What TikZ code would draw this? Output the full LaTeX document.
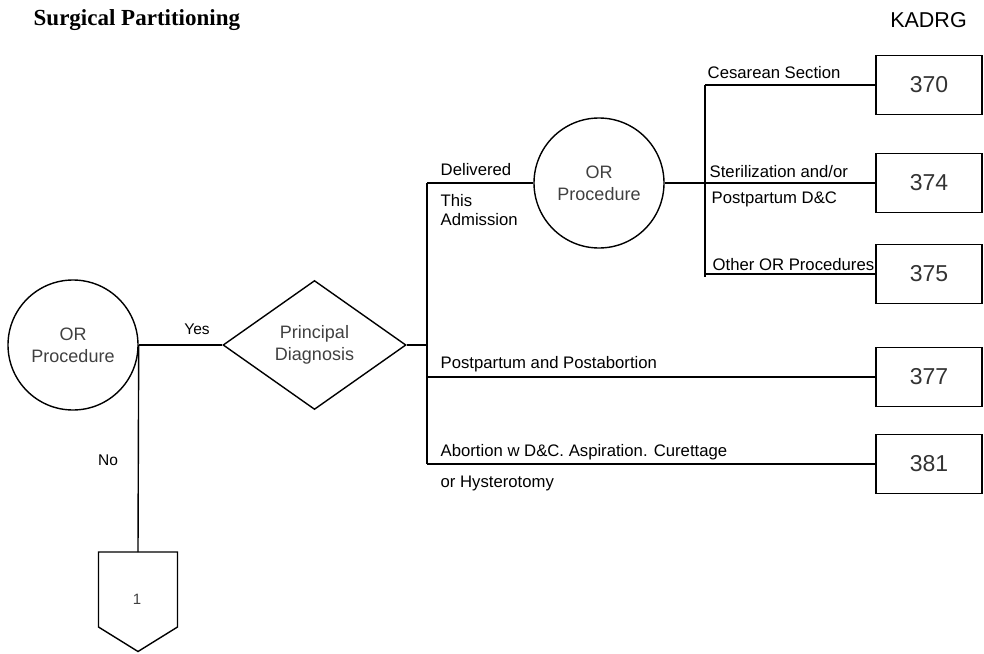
\documentclass[tikz,border=0pt]{standalone}
\usepackage{fontspec}
\setmainfont{Liberation Sans}
\newfontfamily\titlefont{Liberation Serif}
\usetikzlibrary{shapes.geometric}
\begin{document}
\begin{tikzpicture}[x=1pt,y=-1pt,line width=1.4pt,
  lbl/.style={font=\fontsize{16.7}{19}\selectfont,inner sep=0pt,anchor=west},
  yn/.style={font=\fontsize{15.5}{18}\selectfont,inner sep=0pt},
  circ/.style={draw,circle,minimum size=130pt,inner sep=0pt,align=center,text=black!75,font=\fontsize{18}{22}\selectfont},
  dia/.style={draw,diamond,minimum width=183pt,minimum height=129pt,inner sep=0pt,align=center,text=black!75,font=\fontsize{18}{22}\selectfont},
  drgbox/.style={draw,minimum width=106pt,minimum height=59pt,inner sep=0pt,text=black!80,font=\fontsize{23}{27}\selectfont}]
\useasboundingbox (0,0) rectangle (984,653);
% title
\node[inner sep=0pt,anchor=west,font=\titlefont\bfseries\fontsize{23}{27}\selectfont] (title) at (33,20) {Surgical Partitioning};
\node[inner sep=0pt,font=\fontsize{21.5}{25}\selectfont] (kadrg) at (928.5,20) {KADRG};
% main nodes
\node[circ] (or1) at (73,345) {OR\\Procedure};
\node[dia] (pd) at (314.5,345) {Principal\\Diagnosis};
\node[circ] (or2) at (599,183) {OR\\Procedure};
\node[drgbox] (b370) at (929,85) {370};
\node[drgbox] (b374) at (929,183) {374};
\node[drgbox] (b375) at (929,274) {375};
\node[drgbox] (b377) at (929,377) {377};
\node[drgbox] (b381) at (929,464) {381};
% junction coordinates
\coordinate (jd) at (427,345);
\coordinate (vt) at (427,183);
\coordinate (vm) at (427,377);
\coordinate (vb) at (427,464);
\coordinate (rt) at (705,85);
\coordinate (rl) at (705,274);
\coordinate (rb) at (705,277);
\coordinate (pt) at (138,552);
% connectors
\draw (or1.east) -- (pd.west);
\draw (pd.east) -- (jd);
\draw (vt) -- (vb);
\draw (vt) -- (or2.west);
\draw (or2.east) -- (b374.west);
\draw (rt) -- (b370.west);
\draw (rt) -- (rb);
\draw (rl) -- (b375.west);
\draw (vm) -- (b377.west);
\draw (vb) -- (b381.west);
\draw (or1.east) -- (pt);
% off-page connector
\draw (98.5,552) -- (177.5,552) -- (177.5,627) -- (138,651.5) -- (98.5,627) -- cycle;
\node[inner sep=0pt,text=black!75,font=\fontsize{15}{18}\selectfont] (one) at (137,599) {1};
% labels
\node[yn] (yes) at (197,329) {Yes};
\node[yn] (no) at (108,460) {No};
\node[lbl] (deliv) at (440,170) {Delivered};
\node[lbl,align=left] (thisadm) at (440,210) {This\\Admission};
\node[lbl] (ces) at (707,73) {Cesarean Section};
\node[lbl] (ster) at (709,172) {Sterilization and/or};
\node[lbl] (ppdc) at (711,199) {Postpartum D\&C};
\node[lbl] (other) at (712,265) {Other OR Procedures};
\node[lbl] (pppa) at (440,364) {Postpartum and Postabortion};
\node[lbl] (abort) at (440,452) {Abortion w D\&C. Aspiration. Curettage};
\node[lbl] (hyst) at (440,483) {or Hysterotomy};
\end{tikzpicture}
\end{document}
